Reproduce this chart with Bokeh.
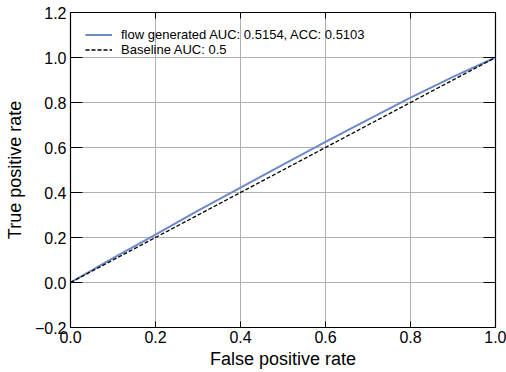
from bokeh.plotting import figure
from bokeh.models import Range1d, LinearAxis, Legend, LegendItem, FixedTicker, CustomJSTickFormatter
from bokeh.embed import file_html
from bokeh.resources import INLINE

flow_fpr = [0.0, 0.1, 0.2, 0.3, 0.4, 0.5, 0.6, 0.7, 0.8, 0.9, 1.0]
flow_tpr = [0.0, 0.108, 0.213, 0.319, 0.422, 0.524, 0.625, 0.724, 0.822, 0.914, 1.0]
base_fpr = [0.0, 1.0]
base_tpr = [0.0, 1.0]
x_ticks = [0.0, 0.2, 0.4, 0.6, 0.8, 1.0]
y_ticks = [-0.2, 0.0, 0.2, 0.4, 0.6, 0.8, 1.0, 1.2]
flow_label = "flow generated AUC: 0.5154, ACC: 0.5103"
base_label = "Baseline AUC: 0.5"

FONT = "Liberation Sans"

p = figure(width=506, height=372, output_backend="svg", toolbar_location=None,
           x_range=Range1d(0, 1), y_range=Range1d(-0.2, 1.2),
           min_border_left=70, min_border_right=11, min_border_top=12, min_border_bottom=45)
p.outline_line_color = "black"
p.outline_line_width = 1.2

r1 = p.line(flow_fpr, flow_tpr, line_color="#6b8ac6", line_width=2)
r2 = p.line(base_fpr, base_tpr, line_color="black", line_width=1.3, line_dash="4 2")

def style_axis(ax, major_len, minor_len, labels=True):
    ax.axis_line_color = None
    ax.major_tick_in = major_len
    ax.major_tick_out = 0
    ax.minor_tick_in = minor_len
    ax.minor_tick_out = 0
    ax.major_tick_line_color = "black"
    ax.minor_tick_line_color = "black"
    ax.major_label_text_font = FONT
    ax.major_label_text_font_size = "16px"
    ax.major_label_text_color = "black"
    ax.axis_label_text_font = FONT
    ax.axis_label_text_font_size = "18px"
    ax.axis_label_text_font_style = "normal"
    ax.axis_label_text_color = "black"
    if not labels:
        ax.formatter = CustomJSTickFormatter(code="return '';")
        ax.major_label_standoff = 0
        ax.major_label_text_font_size = "1px"

xt = FixedTicker(ticks=x_ticks, num_minor_ticks=4)
yt = FixedTicker(ticks=y_ticks, num_minor_ticks=4)
fmt = CustomJSTickFormatter(code="return tick.toFixed(1).replace('-', '\u2212');")

p.xaxis.ticker = xt
p.yaxis.ticker = yt
p.xaxis.formatter = fmt
p.yaxis.formatter = fmt
p.xaxis.axis_label = "False positive rate"
p.yaxis.axis_label = "True positive rate"
p.xaxis.major_label_standoff = 3
p.yaxis.major_label_standoff = 4
p.xaxis.axis_label_standoff = 3
p.yaxis.axis_label_standoff = 7
style_axis(p.xaxis[0], 6, 3)
style_axis(p.yaxis[0], 12, 6)

top = LinearAxis(ticker=FixedTicker(ticks=x_ticks, num_minor_ticks=4))
right = LinearAxis(ticker=FixedTicker(ticks=y_ticks, num_minor_ticks=4))
style_axis(top, 6, 3, labels=False)
style_axis(right, 12, 6, labels=False)
p.add_layout(top, "above")
p.add_layout(right, "right")

p.xgrid.ticker = xt
p.ygrid.ticker = yt
p.grid.grid_line_color = "#b0b0b0"
p.grid.grid_line_width = 1

legend = Legend(items=[LegendItem(label=flow_label, renderers=[r1]),
                       LegendItem(label=base_label, renderers=[r2])],
                location="top_left")
legend.border_line_color = None
legend.background_fill_alpha = 0
legend.label_text_font = FONT
legend.label_text_font_size = "13px"
legend.label_text_color = "black"
legend.glyph_width = 27
legend.glyph_height = 13
legend.label_height = 13
legend.spacing = 0
legend.margin = 15
legend.padding = 3
legend.label_standoff = 9
p.add_layout(legend)

open("out.html", "w").write(file_html(p, INLINE))
